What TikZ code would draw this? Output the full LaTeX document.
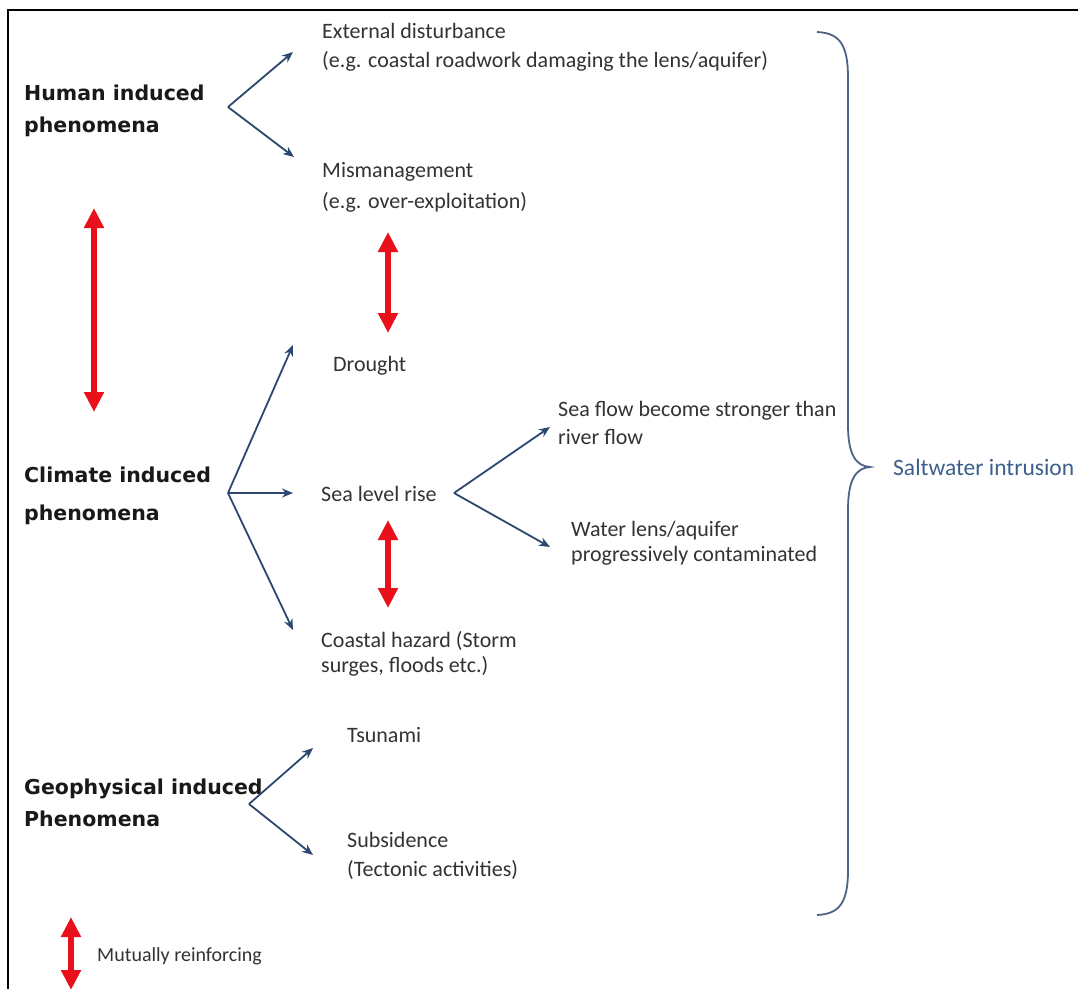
\documentclass[tikz,border=0pt]{standalone}
\usepackage{fontspec}
\setmainfont{Carlito}
\newfontfamily\headfont{DejaVu Sans}
\usetikzlibrary{arrows.meta}
\definecolor{arrblue}{RGB}{44,72,112}
\definecolor{saltblue}{RGB}{60,95,140}
\definecolor{mred}{RGB}{232,16,26}
\tikzset{
  txt/.style={inner sep=0pt, anchor=west, align=left, text=black!80, font=\fontsize{22}{29}\selectfont},
  head/.style={inner sep=0pt, anchor=west, align=left, text=black!90, font=\headfont\bfseries\fontsize{20.5}{32}\selectfont},
  conn/.style={arrblue, line width=1.8pt, -{Stealth[length=11pt,width=9pt]}},
  mutual/.style={mred, line width=6pt, {Triangle[length=20pt,width=19pt]}-{Triangle[length=20pt,width=19pt]}},
  bracestyle/.style={arrblue!85, line width=1.8pt}
}
\begin{document}
\begin{tikzpicture}[x=1pt,y=-1pt]
\useasboundingbox (0,0) rectangle (1078,988);
\fill[white] (0,0) rectangle (1078,988);
\draw[line width=1.6pt] (8,990) -- (8,10) -- (1080,10);

% headings
\node[head] (human) at (24,110.5) {Human induced\\phenomena};
\node[head, font=\headfont\bfseries\fontsize{20.5}{38}\selectfont] (climate) at (24,495.5) {Climate induced\\phenomena};
\node[head] (geo) at (24,802.5) {Geophysical induced\\Phenomena};

% texts
\node[txt] (ext) at (322,47) {External disturbance\\(e.g. coastal roadwork damaging the lens/aquifer)};
\node[txt, font=\fontsize{22}{31}\selectfont] (mis) at (322,187) {Mismanagement\\(e.g. over-exploitation)};
\node[txt] (drought) at (333,366) {Drought};
\node[txt] (slr) at (321,494) {Sea level rise};
\node[txt, font=\fontsize{22}{28}\selectfont] (seaflow) at (558,423) {Sea flow become stronger than\\river flow};
\node[txt, font=\fontsize{22}{25}\selectfont] (lens) at (571,543.5) {Water lens/aquifer\\progressively contaminated};
\node[txt, font=\fontsize{22}{25}\selectfont] (coastal) at (321,654) {Coastal hazard (Storm\\surges, floods etc.)};
\node[txt] (tsunami) at (347,735.5) {Tsunami};
\node[txt] (subs) at (347,856) {Subsidence\\(Tectonic activities)};
\node[txt, text=saltblue, font=\fontsize{23.5}{28}\selectfont] (salt) at (893,467) {Saltwater intrusion};
\node[txt, font=\fontsize{20}{24}\selectfont] (legend) at (97,956.5) {Mutually reinforcing};

% fork points and tips
\coordinate (hf) at (228,107);
\coordinate (hfa) at (293,52);
\coordinate (hfb) at (294,157);
\coordinate (cf) at (228,493);
\coordinate (cfa) at (293,345);
\coordinate (cfb) at (293,493);
\coordinate (cfc) at (293,630);
\coordinate (sf) at (454,493);
\coordinate (sfa) at (550,427);
\coordinate (sfb) at (550,547);
\coordinate (gf) at (249,804);
\coordinate (gfa) at (313,748);
\coordinate (gfb) at (313,855);

\draw[conn] (hf) -- (hfa);
\draw[conn] (hf) -- (hfb);
\draw[conn] (cf) -- (cfa);
\draw[conn] (cf) -- (cfb);
\draw[conn] (cf) -- (cfc);
\draw[conn] (sf) -- (sfa);
\draw[conn] (sf) -- (sfb);
\draw[conn] (gf) -- (gfa);
\draw[conn] (gf) -- (gfb);

% mutually reinforcing arrows
\coordinate (m1a) at (94,208);
\coordinate (m1b) at (94,412);
\coordinate (m2a) at (388,232);
\coordinate (m2b) at (388,333);
\coordinate (m3a) at (388,520);
\coordinate (m3b) at (388,608);
\coordinate (m4a) at (71,917);
\coordinate (m4b) at (71,990);
\draw[mutual] (m1a) -- (m1b);
\draw[mutual] (m2a) -- (m2b);
\draw[mutual] (m3a) -- (m3b);
\draw[mutual] (m4a) -- (m4b);

% brace
\coordinate (btop) at (817,32);
\coordinate (btip) at (870,467);
\coordinate (bbot) at (817,915);
\draw[bracestyle] (btop) .. controls (840,33) and (848,45) .. (848,78) -- (848,425)
  .. controls (848,455) and (856,466) .. (btip)
  .. controls (856,468) and (848,479) .. (848,510) -- (848,870)
  .. controls (848,902) and (840,914) .. (bbot);
\end{tikzpicture}
\end{document}
